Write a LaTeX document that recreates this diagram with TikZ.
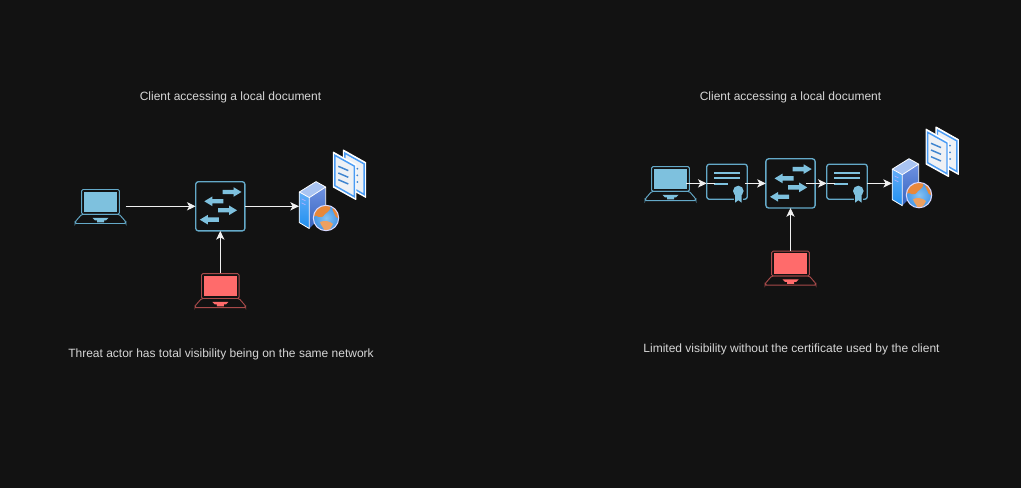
\documentclass[tikz,border=0pt]{standalone}
\usepackage{fontspec}
\setmainfont{Liberation Sans}
\usetikzlibrary{arrows.meta}
\definecolor{bgdark}{HTML}{121212}
\definecolor{textgrey}{HTML}{D6D6D6}
\definecolor{iconblue}{HTML}{7EC1DE}
\definecolor{edgeblue}{HTML}{64A9C8}
\definecolor{iconred}{HTML}{FF6B6B}
\definecolor{edgered}{HTML}{A84A4A}
\definecolor{linkwhite}{HTML}{F0F0F0}
\definecolor{docblue}{HTML}{4A9CF5}
\definecolor{docfill}{HTML}{EEF1F5}
\definecolor{sidetop}{HTML}{62ADF7}
\definecolor{sidelow}{HTML}{1F8FF0}
\definecolor{facetop}{HTML}{6F92E2}
\definecolor{facelow}{HTML}{3563BE}
\definecolor{roofblue}{HTML}{A9C4F2}
\definecolor{globein}{HTML}{86C2F2}
\definecolor{globeout}{HTML}{4596E6}
\definecolor{globeorange}{HTML}{E8883A}
\tikzset{
  caption/.style={font=\fontsize{9}{11}\selectfont,text=textgrey,inner sep=0pt},
  link/.style={-{Stealth[length=6.5pt,width=6.2pt,inset=1.7pt]},linkwhite,line width=0.75pt},
  tail/.style={linkwhite,line width=0.75pt},
  anchorbox/.style={inner sep=0pt,outer sep=0pt},
  pics/laptop/.style args={#1/#2}{code={
    % screen, then base
    \draw[#2,line width=0.7pt,rounded corners=1pt] (-18.8,-16.8) rectangle (18.8,8);
    \fill[#1] (-16.6,-14.6) rectangle (16.8,6);
    \draw[#2,line width=0.7pt,rounded corners=1pt] (-18.8,8) -- (18.8,8) -- (25.3,15.5) -- (25.3,17.2) -- (-25.3,17.2) -- (-25.3,15.5) -- cycle;
    \fill[#1] (-8,11.5) -- (8,11.5) -- (5.5,14) -- (3.5,14) -- (3.5,16) -- (-3.5,16) -- (-3.5,14) -- (-5.5,14) -- cycle;
  }},
  pics/netswitch/.style={code={
    \draw[edgeblue,line width=1pt,rounded corners=2pt] (-24.6,-24.6) rectangle (24.6,24.6);
    \foreach \x/\y/\d in {11.7/-14.3/1,-6.5/-5/-1,7.2/4/1,-11/13.4/-1}
      \fill[iconblue,xscale=\d,shift={(\d*\x,\y)}] (-9.5,-2.2) -- (1.5,-2.2) -- (1.5,-4.8) -- (9.5,0) -- (1.5,4.8) -- (1.5,2.2) -- (-9.5,2.2) -- cycle;
  }},
  pics/certif/.style={code={
    \draw[edgeblue,line width=1pt,rounded corners=2pt] (-20.3,-19.2) rectangle (20.3,15.9);
    \foreach \y in {-10.1,-5.1} \fill[iconblue] (-13,\y-0.9) rectangle (13,\y+0.9);
    \fill[iconblue] (-13,-0.3) rectangle (1.3,1.5);
    \fill[bgdark] (11.3,7.6) circle (6.3);
    \fill[bgdark] (6.8,11) rectangle (15.8,20);
    \fill[iconblue] (8,11) -- (8,19.3) -- (11.3,16.8) -- (14.6,19.3) -- (14.6,11) -- cycle;
    \fill[iconblue] (11.3,7.6) circle (5.3);
  }},
  pics/server/.style={code={
    % tower
    \fill[top color=sidetop,bottom color=sidelow] (-19.7,-14.3) -- (-9.7,-8.7) -- (-9.7,22.3) -- (-19.7,16.3) -- cycle;
    \fill[top color=facetop,bottom color=facelow] (-9.7,-8.7) -- (6.7,-19.3) -- (6.7,5.7) -- (-9.7,22.3) -- cycle;
    \fill[roofblue] (-19.7,-14.3) -- (-3,-24.7) -- (6.7,-19.3) -- (-9.7,-8.7) -- cycle;
    \draw[white,line width=0.6pt,line join=round] (-19.7,-14.3) -- (-3,-24.7) -- (6.7,-19.3) -- (-9.7,-8.7) -- cycle (-19.7,-14.3) -- (-19.7,16.3) -- (-9.7,22.3) -- (-9.7,-8.7) (6.7,-19.3) -- (6.7,5.7);
    \draw[white!70!blue,line width=0.5pt] (-17.5,-7.5) -- (-13.5,-5.5) (-17.5,-3.5) -- (-13.5,-1.5);
    % globe
    \fill[inner color=globein,outer color=globeout] (7,11.7) circle (12.7);
    \begin{scope}[shift={(7,11.7)}]
      \clip (0,0) circle (12.7);
      \fill[globeorange] (-13,-5) .. controls (-10,-12) and (-2,-14) .. (4,-13) .. controls (6,-9) and (2,-6) .. (-1,-4) .. controls (-3,-1) and (-5,0) .. (-7,-1) .. controls (-9,-3) and (-11,-2) .. (-13,-1) -- cycle;
      \fill[globeorange] (7,-12) .. controls (11,-10) and (13,-4) .. (13,1) .. controls (10,0) and (9,-2) .. (8,-5) .. controls (6,-7) and (6,-10) .. (7,-12) -- cycle;
      \fill[globeorange!80!white] (-6,4) .. controls (-2,2) and (4,3) .. (7,6) .. controls (6,9) and (4,11) .. (2,13) -- (-1,13) .. controls (-2,10) and (-5,8) .. (-6,4) -- cycle;
    \end{scope}
    \draw[white!85!blue,line width=0.8pt] (7,11.7) circle (12.7);
  }},
  pics/docpage/.style={code={
    \draw[white,fill=white,line width=0.8pt,line join=round] (-11.2,-6.3) -- (11.2,6.3) -- (11.2,41) -- (-11.2,28.6) -- cycle;
    \draw[docblue,fill=docfill,line width=1.1pt] (-9.7,-3.2) -- (9.7,7.6) -- (9.7,38.2) -- (-9.7,27.2) -- cycle;
  }},
  pics/docpair/.style={code={
    \pic at (5,-18.2) {docpage};
    \pic at (-4.9,-16.0) {docpage};
    \foreach \y in {0,1,2} {
      \draw[docblue!85!black,line width=1.1pt] (-11.2,-8.2+\y*6.7) -- (-1.2,-3.9+\y*6.7);
      \fill[docblue!85!black] (7.8,-5.8+\y*6.65) circle (1);
    }
  }},
}
\begin{document}
\begin{tikzpicture}[x=0.75pt,y=-0.75pt]
\path[fill=bgdark,use as bounding box] (0,0) rectangle (1021,488);
% Left network
\node[caption] (capa) at (230.5,97.3) {Client accessing a local document};
\node[anchorbox,minimum width=37.5pt,minimum height=26pt] (lapa) at (100.5,206.3) {};
\node[anchorbox,minimum width=37pt,minimum height=37pt] (swa) at (220.3,206.3) {};
\node[anchorbox,minimum width=37.5pt,minimum height=26pt] (reda) at (220.3,290.5) {};
\node[anchorbox,minimum width=30pt,minimum height=37pt] (srva) at (319,206.3) {};
\node[anchorbox] (doca) at (349.5,174.5) {};
\node[caption] (fina) at (221,354.3) {Threat actor has total visibility being on the same network};
\pic at (lapa) {laptop={iconblue/edgeblue}};
\pic at (reda) {laptop={iconred/edgered}};
\pic at (swa) {netswitch};
\pic at (srva) {server};
\pic at (doca) {docpair};
\draw[link] (lapa.east) -- (swa.west);
\draw[link] (swa.east) -- (srva.west);
\draw[link] (reda.north) -- (swa.south);
% Right network, certificates on both sides
\node[caption] (capb) at (790.5,97.3) {Client accessing a local document};
\node[anchorbox,minimum width=23.25pt,minimum height=26pt] (lapb) at (670.5,183.4) {};
\node[anchorbox,minimum width=30.5pt,minimum height=26.2pt] (certl) at (727,183.4) {};
\node[anchorbox,minimum width=37pt,minimum height=37pt] (swb) at (790.5,183.4) {};
\node[anchorbox,minimum width=30.5pt,minimum height=26.2pt] (certr) at (847,183.4) {};
\node[anchorbox,minimum width=30pt,minimum height=37pt] (srvb) at (912,183.4) {};
\node[anchorbox] (docb) at (942.2,151.5) {};
\node[anchorbox,minimum width=37.5pt,minimum height=26pt] (redb) at (790.5,268) {};
\node[caption] (finb) at (791.5,349.3) {Limited visibility without the certificate used by the client};
\coordinate (certlin) at (715,183.4);
\coordinate (certrin) at (835,183.4);
\pic at (lapb) {laptop={iconblue/edgeblue}};
\pic at (redb) {laptop={iconred/edgered}};
\pic at (swb) {netswitch};
\pic at (certl) {certif};
\pic at (certr) {certif};
\pic at (srvb) {server};
\pic at (docb) {docpair};
\draw[link] (lapb.east) -- (certl.west);
\draw[tail] (certl.west) -- (certlin);
\draw[link] ([xshift=-1.5pt]certl.east) -- (swb.west);
\draw[link] ([xshift=-6.75pt]swb.east) -- (certr.west);
\draw[tail] (certr.west) -- (certrin);
\draw[link] (certr.east) -- (srvb.west);
\draw[link] (redb.north) -- (swb.south);
\end{tikzpicture}
\end{document}
